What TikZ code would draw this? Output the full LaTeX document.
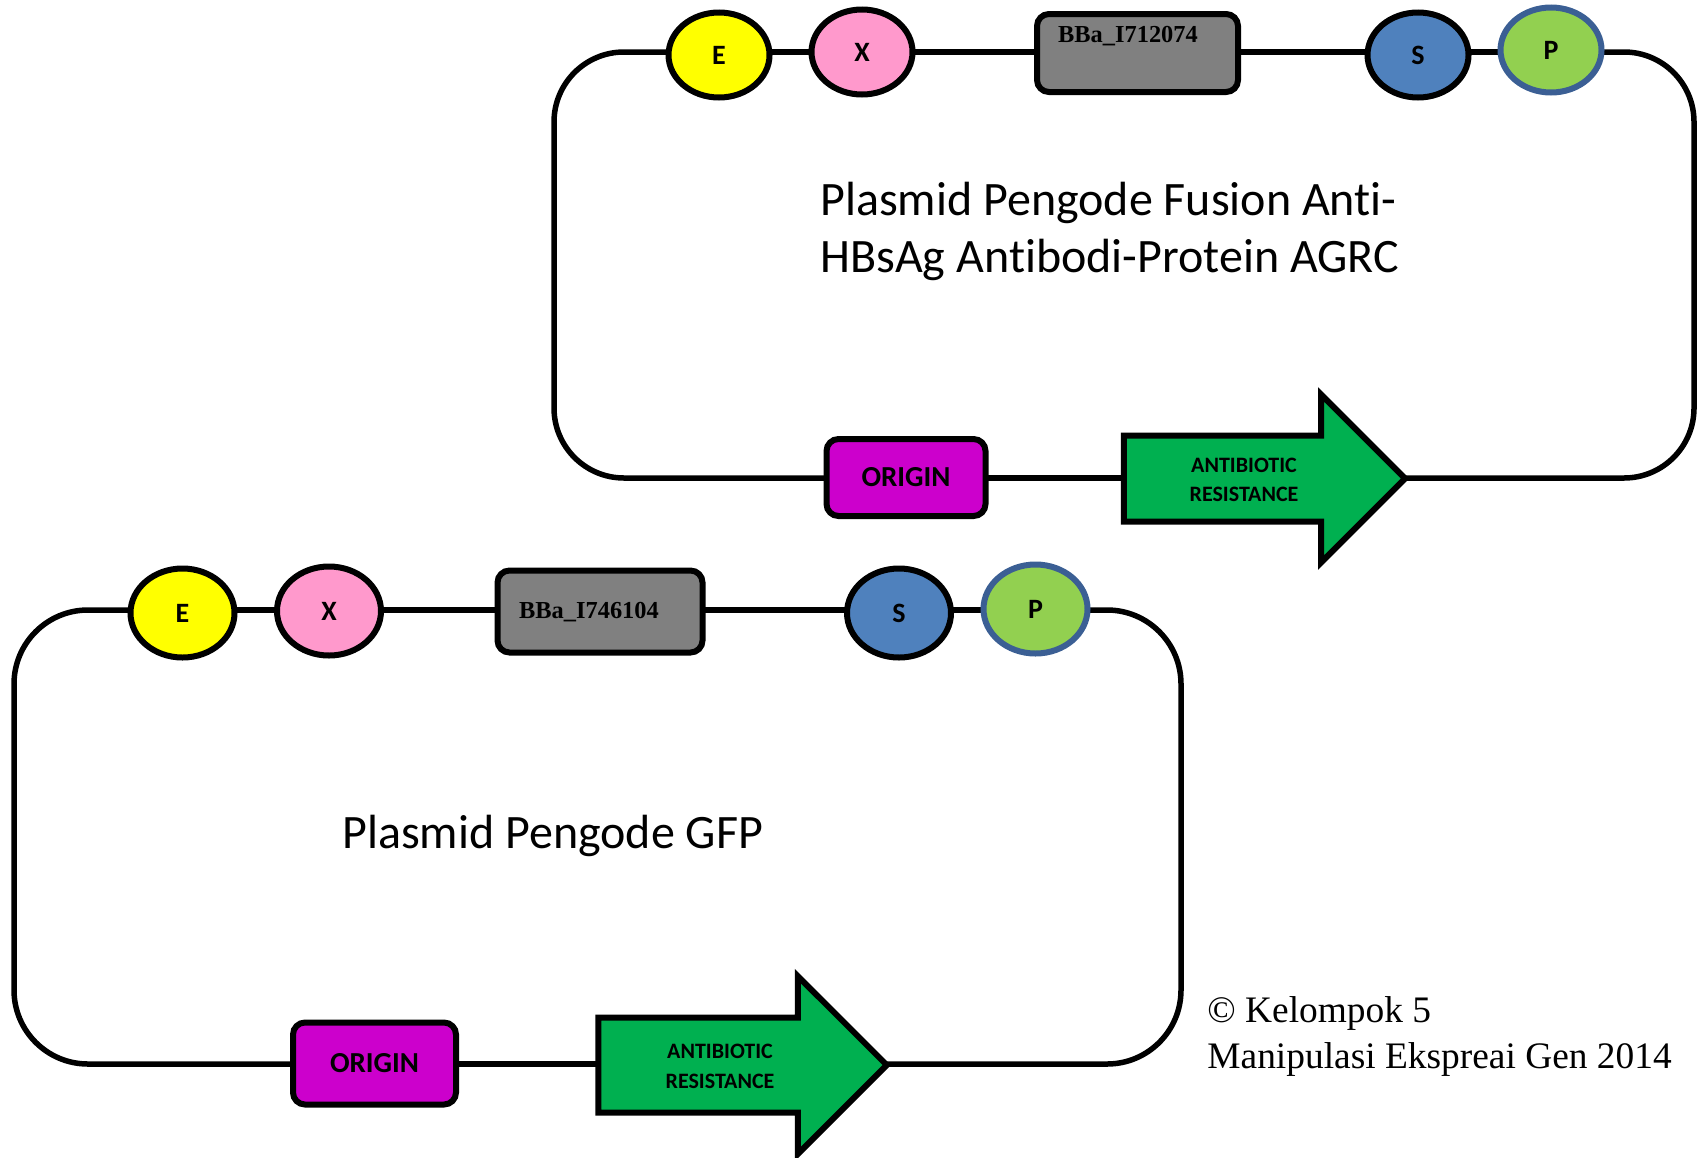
\documentclass[tikz,border=0pt]{standalone}
\usepackage{fontspec}
\setmainfont[Ligatures={NoCommon,NoRequired,NoContextual}]{Carlito}
\newfontfamily\serifb{Liberation Serif}
\usetikzlibrary{shapes.geometric,shapes.arrows,backgrounds}
\definecolor{cutE}{HTML}{FFFF00}
\definecolor{cutX}{HTML}{FF99CC}
\definecolor{cutS}{HTML}{4F81BD}
\definecolor{cutP}{HTML}{92D050}
\definecolor{cutPb}{HTML}{3B5F94}
\definecolor{boxgray}{HTML}{808080}
\definecolor{origin}{HTML}{CC00CC}
\definecolor{resgreen}{HTML}{00B050}
\tikzset{
  x=0.5pt,y=-0.5pt,
  wire/.style={draw=black,line width=2.75pt},
  site/.style={ellipse,draw=black,line width=3pt,inner sep=0pt,outer sep=0pt,minimum width=50.5pt,minimum height=42.5pt,font=\bfseries\fontsize{14}{16}\selectfont},
  siteB/.style={site,minimum width=52pt,minimum height=44.5pt},
  part/.style={rectangle,rounded corners=6pt,draw=black,line width=3pt,fill=boxgray,inner sep=0pt,outer sep=0pt},
  ori/.style={rectangle,rounded corners=6pt,draw=black,line width=3pt,fill=origin,inner sep=0pt,outer sep=0pt,font=\bfseries\fontsize{14.5}{16}\selectfont},
  res/.style={single arrow,draw=black,line width=3pt,fill=resgreen,inner sep=0pt,outer sep=0pt,shape border rotate=0,single arrow tip angle=90,single arrow head indent=0pt},
  restext/.style={inner sep=0pt,font=\bfseries\fontsize{11}{13}\selectfont},
  parttext/.style={inner sep=0pt,font=\serifb\bfseries\fontsize{12.2}{15}\selectfont},
  title/.style={inner sep=0pt,align=left,font=\fontsize{24}{28.5}\selectfont},
  credit/.style={inner sep=0pt,align=left,font=\serifb\fontsize{18.7}{23}\selectfont}
}
\begin{document}
\begin{tikzpicture}
\useasboundingbox (0,0) rectangle (1700,1157);
% ---- upper plasmid
\coordinate (atl) at (554,52);
\coordinate (atr) at (1694,52);
\coordinate (abr) at (1694,478);
\coordinate (abl) at (554,478);
\node[site,fill=cutE] (aE) at (719,55) {E};
\node[site,fill=cutX] (aX) at (862,52) {X};
\node[site,fill=cutS] (aS) at (1418,55) {S};
\node[site,fill=cutP,draw=cutPb] (aP) at (1551,50) {P};
\node[part,minimum width=100.5pt,minimum height=39pt] (aB) at (1137.5,53) {};
\node[parttext] (aBt) at (1128,36) {BBa\_I712074};
\node[ori,minimum width=79.5pt,minimum height=38.5pt] (aO) at (906,477.5) {\raisebox{-0.5pt}{ORIGIN}};
\node[res,minimum height=140.7pt,single arrow head extend=20.5pt] (aR) at (1243,478.5) {\rule{0pt}{40pt}};
\node[restext] (aR1) at (1244,465) {ANTIBIOTIC};
\node[restext] (aR2) at (1244,494) {RESISTANCE};
\node[title,anchor=west] (aT) at (820,231) {Plasmid Pengode Fusion Anti-\\HBsAg Antibodi-Protein AGRC};
% ---- lower plasmid
\coordinate (btl) at (14,610);
\coordinate (btr) at (1181,610);
\coordinate (bbr) at (1181,1064);
\coordinate (bbl) at (14,1064);
\node[siteB,fill=cutE] (bE) at (182.5,613) {E};
\node[siteB,fill=cutX] (bX) at (329,611) {X};
\node[siteB,fill=cutS] (bS) at (899,613) {S};
\node[siteB,fill=cutP,draw=cutPb] (bP) at (1035.5,609) {P};
\node[part,minimum width=102.5pt,minimum height=41pt] (bB) at (600,611.5) {};
\node[parttext] (bBt) at (589,612) {BBa\_I746104};
\node[ori,minimum width=81.5pt,minimum height=41pt] (bO) at (374.5,1063.5) {\raisebox{-0.5pt}{ORIGIN}};
\node[res,minimum height=144.25pt,single arrow head extend=20.75pt] (bR) at (718.75,1065) {\rule{0pt}{44.5pt}};
\node[restext] (bR1) at (720,1051) {ANTIBIOTIC};
\node[restext] (bR2) at (720,1081) {RESISTANCE};
\node[title,anchor=base west] (bT) at (342,848) {Plasmid Pengode GFP};
% ---- credit
\node[credit,anchor=west] (cr) at (1207,1036) {© Kelompok 5\\Manipulasi Ekspreai Gen 2014};
% ---- connectors behind the parts
\begin{scope}[on background layer]
\draw[wire] (aE |- atl) -- (aX |- atl);
\draw[wire] (aX |- atl) -- (aB |- atl);
\draw[wire] (aB |- atl) -- (aS |- atl);
\draw[wire] (aS |- atl) -- (aP |- atl);
\draw[wire,rounded corners=35pt] (aP |- atl) -- (atr) -- (abr) -- (aR.tip |- abr);
\draw[wire] (aR.tail |- abr) -- (aO |- abr);
\draw[wire,rounded corners=35pt] (aO |- abr) -- (abl) -- (atl) -- (aE |- atl);
\draw[wire] (bE |- btl) -- (bX |- btl);
\draw[wire] (bX |- btl) -- (bB |- btl);
\draw[wire] (bB |- btl) -- (bS |- btl);
\draw[wire] (bS |- btl) -- (bP |- btl);
\draw[wire,rounded corners=37pt] (bP |- btl) -- (btr) -- (bbr) -- (bR.tip |- bbr);
\draw[wire] (bR.tail |- bbr) -- (bO |- bbr);
\draw[wire,rounded corners=37pt] (bO |- bbr) -- (bbl) -- (btl) -- (bE |- btl);
\end{scope}
\end{tikzpicture}
\end{document}
